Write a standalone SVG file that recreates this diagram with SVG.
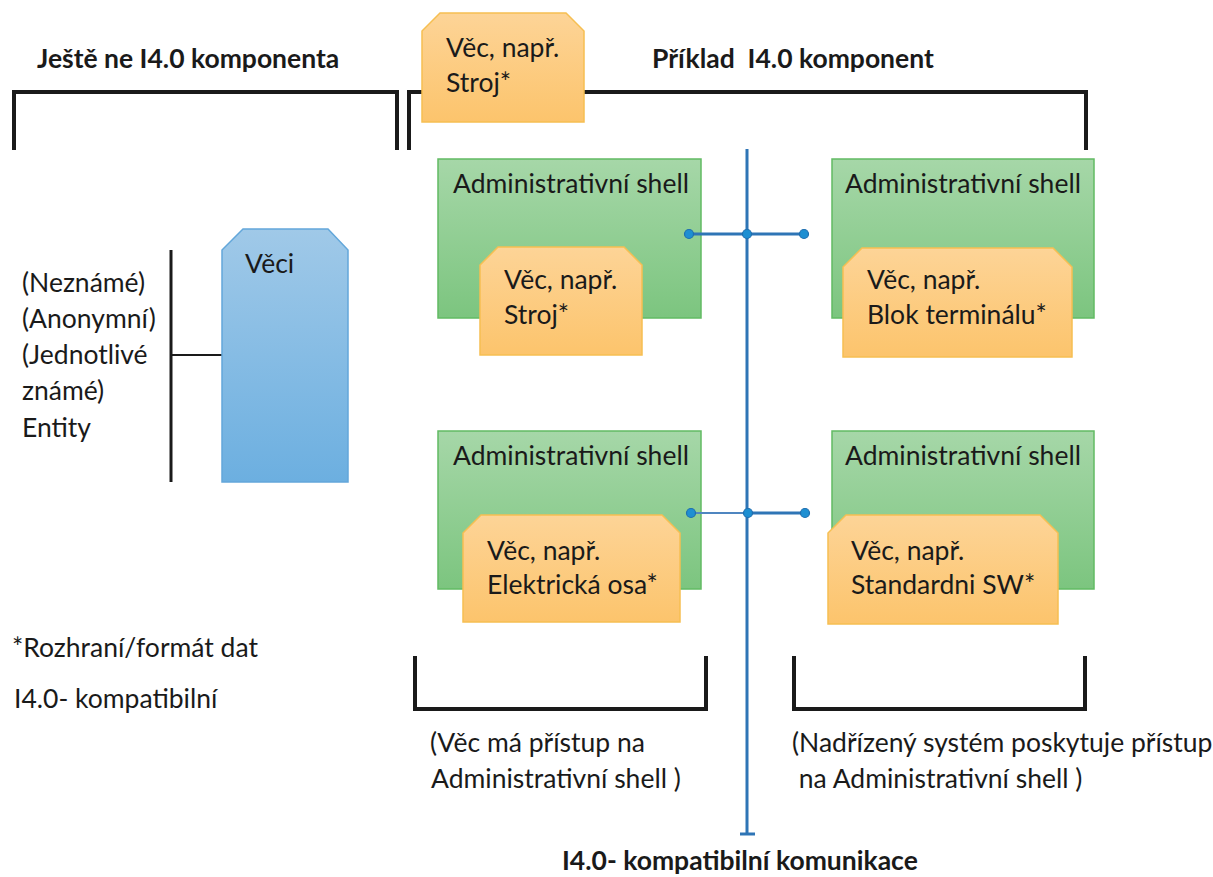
<svg xmlns="http://www.w3.org/2000/svg" width="1213" height="877" viewBox="0 0 1213 877">
  <defs>
    <linearGradient id="gGreen" x1="0" y1="0" x2="0" y2="1">
      <stop offset="0" stop-color="#a6d7a8"/>
      <stop offset="1" stop-color="#7cc57f"/>
    </linearGradient>
    <linearGradient id="gOrange" x1="0" y1="0" x2="0" y2="1">
      <stop offset="0" stop-color="#fdd497"/>
      <stop offset="1" stop-color="#fcc46c"/>
    </linearGradient>
    <linearGradient id="gBlue" x1="0" y1="0" x2="0" y2="1">
      <stop offset="0" stop-color="#a0c9e8"/>
      <stop offset="1" stop-color="#6cafe0"/>
    </linearGradient>
  </defs>
  <style>
    text { font-family: Lato, "Liberation Sans", sans-serif; fill: #1a1a1a; font-size: 26.5px; }
    .b { font-weight: bold; }
    .shell { fill: url(#gGreen); stroke: #62bb63; stroke-width: 1.5; }
    .thing { fill: url(#gOrange); stroke: #f6bf52; stroke-width: 1.5; }
    .veci { fill: url(#gBlue); stroke: #63a7da; stroke-width: 1.5; }
    .brk { fill: none; stroke: #1a1a1a; stroke-width: 4; }
    .bus { fill: none; stroke: #2e75b6; stroke-width: 3; }
    .dot { fill: #1e8fd2; stroke: #1f6fb0; stroke-width: 1.2; }
  </style>
  <rect width="1213" height="877" fill="#ffffff"/>

  <!-- headings and brackets -->
  <g id="headings">
    <text class="b" x="37" y="68">Ještě ne I4.0 komponenta</text>
    <text class="b" x="652" y="68" xml:space="preserve">Příklad  I4.0 komponent</text>
    <path class="brk" d="M14,150 V92 H397 V150"/>
    <path class="brk" d="M409,150 V92 H1086 V150"/>
    <path class="brk" d="M415,656 V709 H706 V656"/>
    <path class="brk" d="M794,656 V709 H1085 V656"/>
  </g>

  <!-- left side: unknown entities -->
  <g id="entities">
    <text x="22" y="292">(Neznámé)</text>
    <text x="22" y="328">(Anonymní)</text>
    <text x="22" y="364">(Jednotlivé</text>
    <text x="22" y="400">známé)</text>
    <text x="22" y="437">Entity</text>
    <line x1="171" y1="250" x2="171" y2="482" stroke="#1a1a1a" stroke-width="3"/>
    <line x1="171" y1="355" x2="222" y2="355" stroke="#1a1a1a" stroke-width="2"/>
  </g>

  <g id="veci">
    <path class="veci" d="M243,229 H328 L348,250 V482 H222 V250 Z"/>
    <text x="245" y="273">Věci</text>
  </g>

  <!-- standalone thing -->
  <g id="thing-top">
    <path class="thing" d="M440,13 H566 L584,31 V122 H422 V31 Z"/>
    <text x="446" y="57">Věc, např.</text>
    <text x="446" y="92">Stroj*</text>
  </g>

  <!-- I4.0 components -->
  <g id="shell-tl">
    <rect class="shell" x="438" y="159" width="263" height="159"/>
    <text x="453" y="193">Administrativní shell</text>
  </g>
  <g id="thing-tl">
    <path class="thing" d="M498,247 H624 L642,265 V355 H480 V265 Z"/>
    <text x="504" y="289">Věc, např.</text>
    <text x="504" y="324">Stroj*</text>
  </g>

  <g id="shell-tr">
    <rect class="shell" x="832" y="159" width="262" height="159"/>
    <text x="845" y="193">Administrativní shell</text>
  </g>
  <g id="thing-tr">
    <path class="thing" d="M862,248 H1053 L1072,267 V357 H843 V267 Z"/>
    <text x="867" y="289">Věc, např.</text>
    <text x="867" y="324">Blok terminálu*</text>
  </g>

  <g id="shell-bl">
    <rect class="shell" x="438" y="431" width="263" height="158"/>
    <text x="453" y="465">Administrativní shell</text>
  </g>
  <g id="thing-bl">
    <path class="thing" d="M481,515 H662 L680,533 V622 H463 V533 Z"/>
    <text x="487" y="560">Věc, např.</text>
    <text x="487" y="594">Elektrická osa*</text>
  </g>

  <g id="shell-br">
    <rect class="shell" x="832" y="431" width="262" height="158"/>
    <text x="845" y="465">Administrativní shell</text>
  </g>
  <g id="thing-br">
    <path class="thing" d="M846,515 H1040 L1058,533 V624 H828 V533 Z"/>
    <text x="851" y="560">Věc, např.</text>
    <text x="851" y="594">Standardni SW*</text>
  </g>

  <!-- connectors: communication bus with links to the shells -->
  <g id="connectors">
    <line class="bus" x1="747" y1="149" x2="747" y2="834"/>
    <line class="bus" x1="740" y1="834" x2="755" y2="834"/>
    <line class="bus" x1="689" y1="234" x2="804" y2="234"/>
    <line x1="691" y1="513" x2="748" y2="513" stroke="#4f86c0" stroke-width="2"/>
    <line class="bus" x1="748" y1="513" x2="805" y2="513"/>
    <circle class="dot" cx="689" cy="234" r="4.5"/>
    <circle class="dot" cx="747" cy="234" r="4.5"/>
    <circle class="dot" cx="804" cy="234" r="4.5"/>
    <circle class="dot" cx="691" cy="513" r="4.5"/>
    <circle class="dot" cx="748" cy="513" r="4.5"/>
    <circle class="dot" cx="805" cy="513" r="4.5"/>
  </g>

  <!-- notes -->
  <g id="notes">
    <text x="12" y="657">*Rozhraní/formát dat</text>
    <text x="14" y="708">I4.0- kompatibilní</text>
    <text x="430" y="752">(Věc má přístup na</text>
    <text x="431" y="788">Administrativní shell )</text>
    <text x="792" y="752">(Nadřízený systém poskytuje přístup</text>
    <text x="792" y="788" xml:space="preserve"> na Administrativní shell )</text>
    <text class="b" x="562" y="870">I4.0- kompatibilní komunikace</text>
  </g>
</svg>
